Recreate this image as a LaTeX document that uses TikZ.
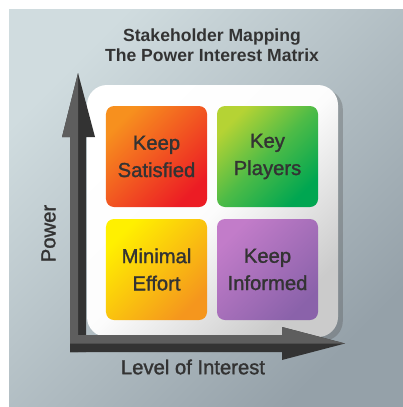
\documentclass[tikz,border=0pt]{standalone}
\usepackage{fontspec}
\setmainfont{Liberation Sans}
\newfontfamily\medfont{Liberation Sans}[FakeBold=1.4]
\usetikzlibrary{shadows}

\definecolor{bgLight}{HTML}{D0DCDF}
\definecolor{bgDark}{HTML}{95A1A9}
\definecolor{boardGray}{HTML}{CBCBCB}
\definecolor{txtGray}{HTML}{333333}
\definecolor{axisLight}{HTML}{5E5E5E}
\definecolor{axisDark}{HTML}{333333}
\definecolor{satisfiedA}{HTML}{F7901E}
\definecolor{satisfiedB}{HTML}{EC1C24}
\definecolor{playersA}{HTML}{B5D334}
\definecolor{playersM}{HTML}{4CBB47}
\definecolor{playersB}{HTML}{00A651}
\definecolor{minimalA}{HTML}{FFF000}
\definecolor{minimalB}{HTML}{F5961D}
\definecolor{informedA}{HTML}{C27CC9}
\definecolor{informedB}{HTML}{8A62AA}

\tikzset{
  quad/.style={minimum size=25.25mm, rounded corners=2mm, inner sep=0pt,
    align=center, text=txtGray, font=\medfont\fontsize{14.4}{19.4}\selectfont},
  axislabel/.style={text=txtGray, inner sep=0pt, font=\medfont\fontsize{14.4}{17}\selectfont}
}

\begin{document}
\begin{tikzpicture}[x=0.25mm,y=-0.25mm]
\useasboundingbox (0,0) rectangle (403,407);

% backdrop
\shade[top color=bgLight,bottom color=bgDark,shading angle=45] (9,9) rectangle (403,407);

\node[text=txtGray, align=center, font=\bfseries\fontsize{12.5}{14.2}\selectfont] (title) at (212,45) {Stakeholder Mapping\\The Power Interest Matrix};

% board
\path[drop shadow={shadow xshift=1.2mm,shadow yshift=-1mm,opacity=0.3,fill=black!70}, top color=white, bottom color=boardGray, middle color=white!95!boardGray, shading angle=45, rounded corners=5mm] (87,85) rectangle (338,337);

\node[quad,top color=satisfiedA,bottom color=satisfiedB,shading angle=45] (satisfied) at (156.5,156.5) {Keep\\Satisfied};
\node[quad,top color=playersA,bottom color=playersB,middle color=playersM,shading angle=45] (players) at (267.5,156.5) {Key\\Players};
\node[quad,top color=minimalA,bottom color=minimalB,shading angle=45] (minimal) at (156.5,269.5) {Minimal\\Effort};
\node[quad,top color=informedA,bottom color=informedB,shading angle=45] (informed) at (267.5,269.5) {Keep\\Informed};

% axes
\fill[axisDark] (70,352) -- (70,137) -- (62,137) -- (78,73) -- (95,137) -- (86,137) -- (86,352) -- cycle;
\fill[axisLight] (70,352) -- (70,137) -- (62,137) -- (78,73) -- (78,352) -- cycle;
\fill[axisDark] (70,335) -- (282,335) -- (282,327) -- (345,343.5) -- (282,360) -- (282,352) -- (70,352) -- cycle;
\fill[axisLight] (70,335) -- (282,335) -- (282,327) -- (345,343.5) -- (70,343.5) -- cycle;

\node[axislabel,rotate=90] (power) at (48.5,233.5) {Power};
\node[axislabel] (interest) at (193,367) {Level of Interest};
\end{tikzpicture}
\end{document}
